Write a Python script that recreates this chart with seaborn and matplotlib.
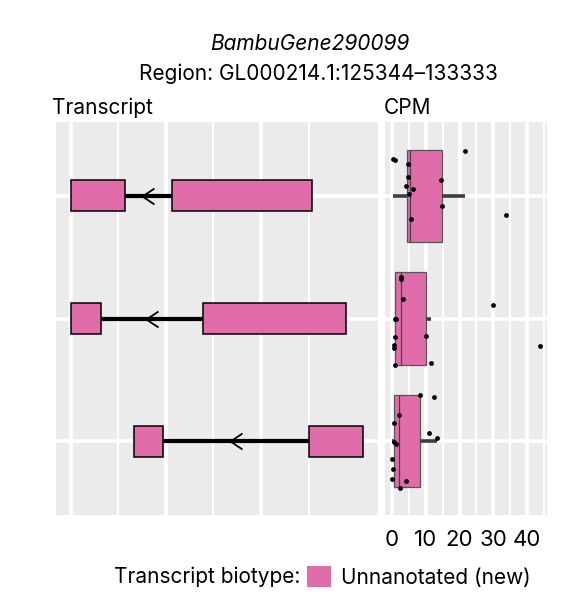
import numpy as np
import pandas as pd
import seaborn as sns
import matplotlib.pyplot as plt
from matplotlib.patches import Patch

# transcripts (top to bottom)
transcripts = ["BambuTx1", "BambuTx2", "BambuTx3"]

# exon coordinates (bp)
exon_tx = ["BambuTx1", "BambuTx1", "BambuTx2", "BambuTx2", "BambuTx3", "BambuTx3"]
exon_start = [125344, 128110, 125344, 128950, 127075, 131855]
exon_end = [126830, 131940, 126165, 132870, 127860, 133333]

region_start = 125344
region_end = 133333

# CPM per sample, and vertical jitter
cpm_tx1 = [21.5, 0.3, 1.0, 4.7, 4.7, 4.0, 6.3, 4.9, 14.6, 14.9, 5.7, 33.6]
jit_tx1 = [-0.365, -0.302, -0.288, -0.259, -0.153, -0.082, -0.057, -0.016, -0.131, 0.087, 0.190, 0.157]
cpm_tx2 = [2.58, 2.8, 3.17, 1.0, 1.3, 1.0, 0.5, 0.5, 1.0, 10.2, 11.5, 29.8, 43.7]
jit_tx2 = [-0.337, -0.324, -0.155, 0.002, 0.008, 0.149, 0.212, 0.239, 0.376, 0.139, 0.359, -0.112, 0.220]
cpm_tx3 = [8.4, 12.4, 2.0, 0.6, 10.9, 13.3, 0.5, 1.3, 0.1, 0.3, 0.1, 4.06, 2.37]
jit_tx3 = [-0.376, -0.357, -0.212, -0.149, -0.071, -0.027, 0.006, 0.024, 0.147, 0.223, 0.310, 0.324, 0.381]

cpm_ticks = [0, 10, 20, 30, 40]

PINK = "#E16CAA"
PANEL = "#EBEBEB"
FS = 15

sns.set_theme(style="white")
plt.rcParams["font.family"] = ["Inter", "DejaVu Sans"]
plt.rcParams["font.size"] = FS
plt.rcParams["text.color"] = "black"

exons = pd.DataFrame({"transcript": exon_tx, "start": exon_start, "end": exon_end})
cpm = pd.DataFrame({
    "transcript": ["BambuTx1"] * len(cpm_tx1) + ["BambuTx2"] * len(cpm_tx2) + ["BambuTx3"] * len(cpm_tx3),
    "cpm": cpm_tx1 + cpm_tx2 + cpm_tx3,
    "jitter": jit_tx1 + jit_tx2 + jit_tx3,
})
cpm["row"] = cpm["transcript"].map({t: i for i, t in enumerate(transcripts)}) + cpm["jitter"]

fig = plt.figure(figsize=(5.65, 6.1), dpi=100)
ax_tx = fig.add_axes([0.0991, 0.1557, 0.5694, 0.6443])
ax_cpm = fig.add_axes([0.6814, 0.1557, 0.2867, 0.6443])

for ax in (ax_tx, ax_cpm):
    ax.set_facecolor(PANEL)
    ax.set_axisbelow(True)
    for s in ax.spines.values():
        s.set_visible(False)

# ---- transcript structure panel ----
span = region_end - region_start
for i, tx in enumerate(transcripts):
    sub = exons[exons.transcript == tx].sort_values("start")
    # intron line
    ax_tx.plot([sub.start.min(), sub.end.max()], [i, i], color="black", lw=3.0,
               solid_capstyle="butt", zorder=2)
    # strand arrow in the middle of each intron
    for e, s in zip(sub.end.values[:-1], sub.start.values[1:]):
        ax_tx.plot([(e + s) / 2], [i], marker=[(0.75, 1), (-0.75, 0), (0.75, -1)],
                   markersize=11.5, fillstyle="none", markeredgecolor="black",
                   markeredgewidth=1.3, linestyle="none", zorder=3)
    ax_tx.barh(i, sub.end - sub.start, left=sub.start, height=0.25,
               color=PINK, edgecolor="black", linewidth=1.1, zorder=4)

major = [region_start + k * 2600 for k in range(3)]
minor = [region_start + 1300 + k * 2600 for k in range(3)]
ax_tx.set_xticks(major)
ax_tx.set_xticks(minor, minor=True)
ax_tx.set_yticks(range(len(transcripts)))
ax_tx.grid(which="major", color="white", lw=2.6)
ax_tx.grid(which="minor", axis="x", color="white", lw=1.4)
ax_tx.tick_params(which="both", length=0, labelbottom=False, labelleft=False)
ax_tx.set_xlim(region_start - 0.05 * span, region_end + 0.05 * span)
ax_tx.set_ylim(len(transcripts) - 0.4, -0.6)
ax_tx.set_xlabel("")
ax_tx.set_ylabel("")

# ---- CPM panel ----
sns.boxplot(data=cpm, x="cpm", y="transcript", order=transcripts, orient="h",
            width=0.75, showfliers=False, whis=1.5, showcaps=False,
            color=PINK, saturation=1, linecolor="#555555", linewidth=0.9,
            whiskerprops={"color": "#3d3d3d", "linewidth": 2.6, "solid_capstyle": "butt"},
            medianprops={"color": "#444444", "linewidth": 0.9},
            ax=ax_cpm, zorder=2)
ax_cpm.scatter(cpm["cpm"], cpm["row"], s=12, color="black", linewidths=0, zorder=5)

lo, hi = cpm.cpm.min(), cpm.cpm.max()
ax_cpm.set_xlim(lo - 0.05 * (hi - lo), hi + 0.05 * (hi - lo))
ax_cpm.set_ylim(len(transcripts) - 0.4, -0.6)
ax_cpm.set_xticks(cpm_ticks)
ax_cpm.set_xticks([t + 5 for t in cpm_ticks], minor=True)
ax_cpm.grid(which="major", color="white", lw=2.6)
ax_cpm.grid(which="minor", axis="x", color="white", lw=1.4)
ax_cpm.tick_params(axis="x", which="major", length=4.5, width=1.0, color="#333333",
                   labelsize=16, pad=6, labelcolor="black")
ax_cpm.tick_params(axis="x", which="minor", length=0)
ax_cpm.tick_params(axis="y", length=0, labelleft=False)
ax_cpm.set_xlabel("")
ax_cpm.set_ylabel("")

# ---- titles ----
fig.text(0.548, 1 - 44 / 610, "BambuGene290099", ha="center", va="center",
         fontsize=FS, style="italic")
fig.text(0.563, 1 - 74 / 610, "Region: GL000214.1:125344\u2013133333", ha="center",
         va="center", fontsize=FS)
fig.text(52 / 565, 1 - 108 / 610, "Transcript", ha="left", va="center", fontsize=FS)
fig.text(384 / 565, 1 - 108 / 610, "CPM", ha="left", va="center", fontsize=FS)

# ---- legend ----
fig.text(300 / 565, 1 - 577 / 610, "Transcript biotype:", ha="right", va="center",
         fontsize=FS)
fig.legend(handles=[Patch(facecolor=PINK, edgecolor="none")], labels=["Unnanotated (new)"],
           loc="center left", bbox_to_anchor=(307 / 565, 1 - 577 / 610), frameon=False,
           fontsize=FS, handlelength=1.15, handleheight=1.15, handletextpad=0.5,
           borderpad=0, borderaxespad=0)

fig.savefig("out.png", dpi=100)
